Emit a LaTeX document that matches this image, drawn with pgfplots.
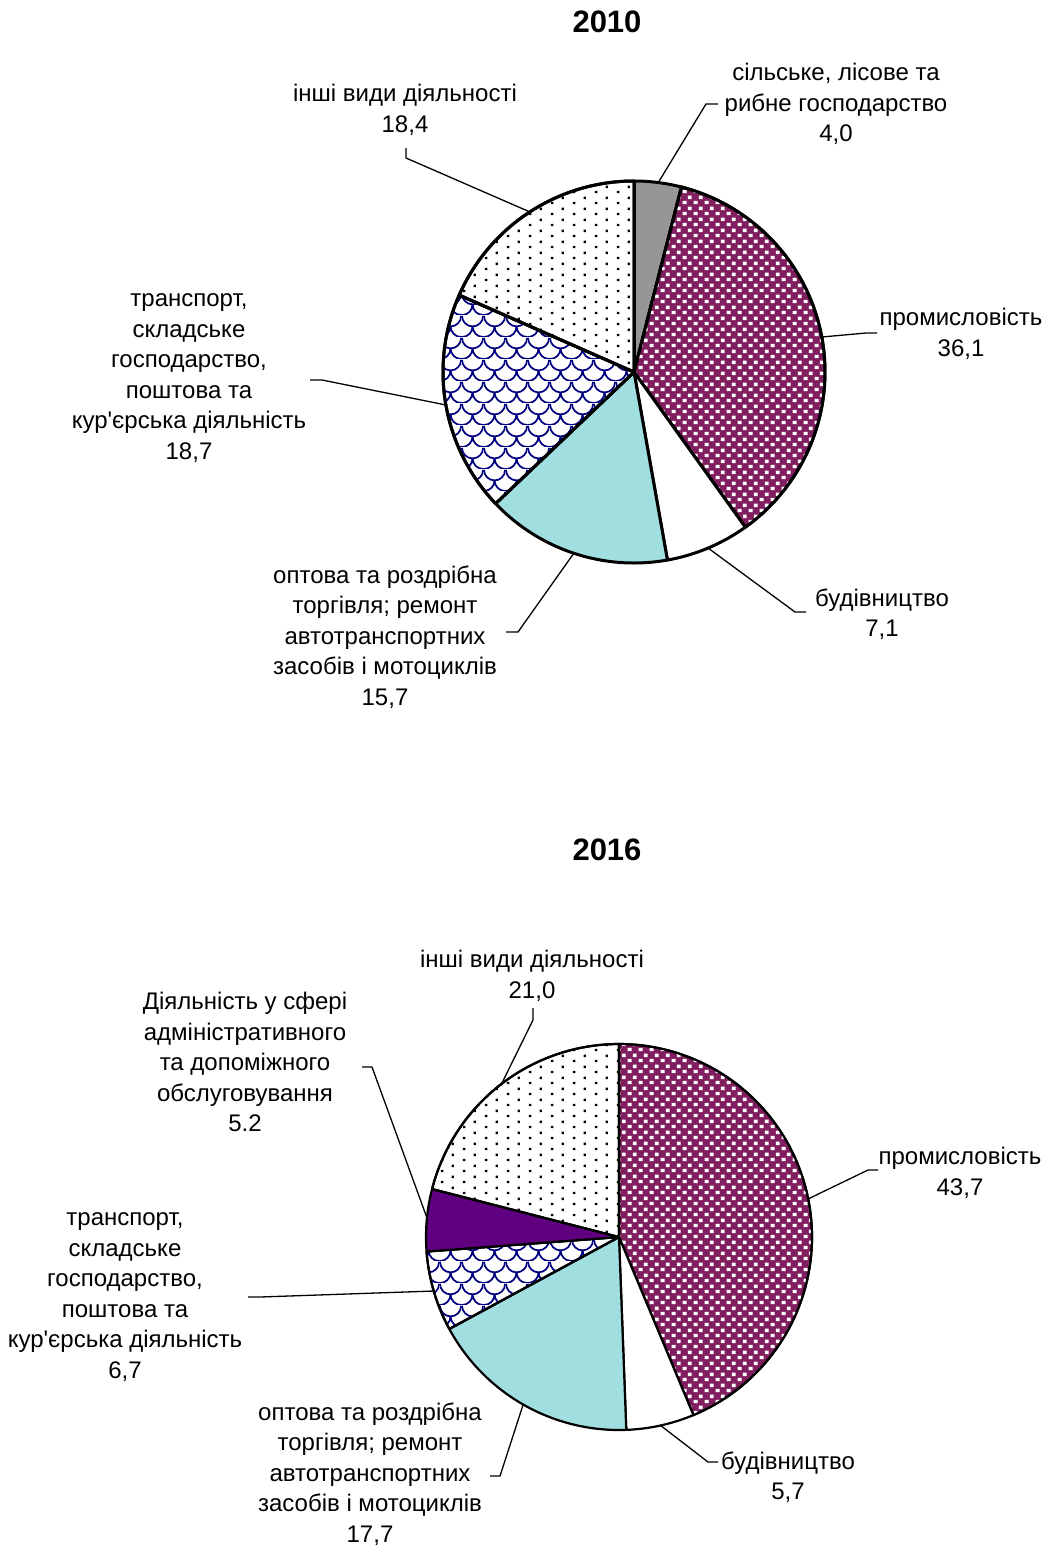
\documentclass[border=0pt]{standalone}
\usepackage{pgfplots}
\pgfplotsset{compat=1.18}
\usepackage{fontspec}
\setmainfont{Liberation Sans}
\usetikzlibrary{patterns}

\definecolor{pgray}{RGB}{150,150,150}
\definecolor{pplum}{RGB}{128,30,96}
\definecolor{pcyan}{RGB}{160,222,224}
\definecolor{pviolet}{RGB}{96,0,128}
\definecolor{pnavy}{RGB}{0,0,128}

\pgfdeclarepatternformonly{checkw}{\pgfqpoint{0pt}{0pt}}{\pgfqpoint{11pt}{11pt}}{\pgfqpoint{11pt}{11pt}}{%
  \pgfpathrectangle{\pgfqpoint{0.8pt}{1pt}}{\pgfqpoint{4.2pt}{3.6pt}}%
  \pgfpathrectangle{\pgfqpoint{6.3pt}{6.5pt}}{\pgfqpoint{4.2pt}{3.6pt}}%
  \pgfusepath{fill}}

\pgfdeclarepatternformonly{sdots}{\pgfqpoint{0pt}{0pt}}{\pgfqpoint{22pt}{11pt}}{\pgfqpoint{22pt}{11pt}}{%
  \pgfpathrectangle{\pgfqpoint{1pt}{1pt}}{\pgfqpoint{2.5pt}{2.5pt}}%
  \pgfpathrectangle{\pgfqpoint{12pt}{6.5pt}}{\pgfqpoint{2.5pt}{2.5pt}}%
  \pgfusepath{fill}}

\pgfdeclarepatternformonly{scales}{\pgfqpoint{0pt}{0pt}}{\pgfqpoint{22pt}{22pt}}{\pgfqpoint{22pt}{22pt}}{%
  \pgfsetlinewidth{1.8pt}%
  \pgfpathmoveto{\pgfqpoint{0pt}{22pt}}\pgfpatharc{180}{360}{11pt}%
  \pgfpathmoveto{\pgfqpoint{-11pt}{11pt}}\pgfpatharc{180}{360}{11pt}%
  \pgfpathmoveto{\pgfqpoint{11pt}{11pt}}\pgfpatharc{180}{360}{11pt}%
  \pgfusepath{stroke}}

% cx, cy, r, cumulative start, value, style
\newcommand{\pieslice}[6]{%
  \addplot[#6, domain=-90+3.6*(#4):-90+3.6*(#4+#5), samples=90, variable=\t]
    ({#1+#3*cos(\t)},{#2+#3*sin(\t)}) -- (axis cs:#1,#2) -- cycle;
}
\newcommand{\ap}{\textquotesingle}

\tikzset{lbl/.style={align=center, font=\fontsize{24}{30.5}\selectfont, inner sep=0pt},
  ttl/.style={font=\fontsize{31}{36}\selectfont\bfseries, inner sep=0pt},
  lead/.style={black, line width=1.3pt, no markers}}

\begin{document}
\begin{tikzpicture}
\begin{axis}[
  width=1046pt, height=1547pt, scale only axis,
  xmin=0, xmax=1046, ymin=0, ymax=1547, y dir=reverse,
  hide axis, clip=false, no markers,
  every axis plot/.append style={line join=round}
]
% ---------- 2010 ----------
\pieslice{634}{372}{191}{0}{4.0}{draw=black, line width=3pt, fill=pgray}
\pieslice{634}{372}{191}{4.0}{36.1}{draw=black, line width=3pt, fill=pplum, postaction={pattern=checkw, pattern color=white}}
\pieslice{634}{372}{191}{40.1}{7.1}{draw=black, line width=3pt, fill=white}
\pieslice{634}{372}{191}{47.2}{15.7}{draw=black, line width=3pt, fill=pcyan}
\pieslice{634}{372}{191}{62.9}{18.7}{draw=black, line width=3pt, fill=white, postaction={pattern=scales, pattern color=pnavy}}
\pieslice{634}{372}{191}{81.6}{18.4}{draw=black, line width=3pt, fill=white, postaction={pattern=sdots, pattern color=black}}

\addplot[lead] coordinates {(658,183) (706,104) (718,104)};
\addplot[lead] coordinates {(822,337) (866,333) (877,333)};
\addplot[lead] coordinates {(708,548) (795,612) (806,612)};
\addplot[lead] coordinates {(574,553) (518,632) (506,632)};
\addplot[lead] coordinates {(446,405) (322,380) (310,380)};
\addplot[lead] coordinates {(530,212) (406,158) (406,148)};

\node[ttl] at (axis cs:607,22) {2010};
\node[lbl] at (axis cs:836,104) {сільське, лісове та\\рибне господарство\\4,0};
\node[lbl] at (axis cs:961,334) {промисловість\\36,1};
\node[lbl] at (axis cs:882,614) {будівництво\\7,1};
\node[lbl] at (axis cs:385,637) {оптова та роздрібна\\торгівля; ремонт\\автотранспортних\\засобів і мотоциклів\\15,7};
\node[lbl] at (axis cs:189,378) {транспорт,\\складське\\господарство,\\поштова та\\кур\ap єрська діяльність\\18,7};
\node[lbl] at (axis cs:405,110) {інші види діяльності\\18,4};

% ---------- 2016 ----------
\pieslice{619}{1237}{193}{0}{43.7}{draw=black, line width=2.2pt, fill=pplum, postaction={pattern=checkw, pattern color=white}}
\pieslice{619}{1237}{193}{43.7}{5.7}{draw=black, line width=2.2pt, fill=white}
\pieslice{619}{1237}{193}{49.4}{17.7}{draw=black, line width=2.2pt, fill=pcyan}
\pieslice{619}{1237}{193}{67.1}{6.7}{draw=black, line width=2.2pt, fill=white, postaction={pattern=scales, pattern color=pnavy}}
\pieslice{619}{1237}{193}{73.8}{5.2}{draw=black, line width=2.2pt, fill=pviolet}
\pieslice{619}{1237}{193}{79.0}{21.0}{draw=black, line width=2.2pt, fill=white, postaction={pattern=sdots, pattern color=black}}

\addplot[lead] coordinates {(501,1085) (533,1020) (533,1008)};
\addplot[lead] coordinates {(808,1199) (868,1170) (878,1170)};
\addplot[lead] coordinates {(660,1425) (708,1462) (718,1462)};
\addplot[lead] coordinates {(523,1405) (500,1476) (490,1476)};
\addplot[lead] coordinates {(434,1291) (260,1297) (248,1297)};
\addplot[lead] coordinates {(427,1218) (372,1067) (362,1067)};

\node[ttl] at (axis cs:607,850) {2016};
\node[lbl] at (axis cs:532,976) {інші види діяльності\\21,0};
\node[lbl] at (axis cs:245,1062) {Діяльність у сфері\\адміністративного\\та допоміжного\\обслуговування\\5.2};
\node[lbl] at (axis cs:960,1173) {промисловість\\43,7};
\node[lbl] at (axis cs:788,1477) {будівництво\\5,7};
\node[lbl] at (axis cs:370,1474) {оптова та роздрібна\\торгівля; ремонт\\автотранспортних\\засобів і мотоциклів\\17,7};
\node[lbl] at (axis cs:125,1297) {транспорт,\\складське\\господарство,\\поштова та\\кур\ap єрська діяльність\\6,7};
\end{axis}
\pgfresetboundingbox
\path[use as bounding box] (current axis.south west) rectangle (current axis.north east);
\end{tikzpicture}
\end{document}
